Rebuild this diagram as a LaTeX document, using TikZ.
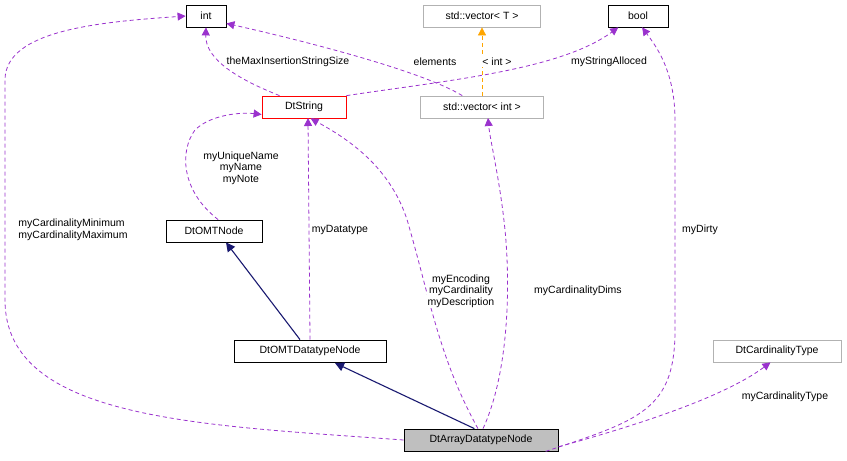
\documentclass[tikz,border=0pt]{standalone}
\usepackage{fontspec}
\setmainfont{Liberation Sans}
\usetikzlibrary{arrows.meta}
\definecolor{purp}{HTML}{9A32CD}
\definecolor{navy}{HTML}{191970}
\definecolor{orng}{HTML}{FFA500}
\tikzset{
 box/.style={draw=black,fill=white,line width=0.8pt,minimum height=22pt,inner xsep=4pt,inner ysep=0pt,font=\fontsize{10.5}{12}\selectfont},
 gbox/.style={box,draw=gray!60},
 rel/.style={draw=purp,line width=0.8pt,dash pattern=on 4pt off 3pt,-{Triangle[length=8pt,width=8pt]}},
 inh/.style={draw=navy,line width=1.1pt,-{Triangle[length=9pt,width=9pt]}},
 lab/.style={font=\fontsize{10.5}{11.5}\selectfont,align=center,fill=white,inner sep=1pt}
}
\begin{document}
\begin{tikzpicture}[x=1pt,y=-1pt]
\useasboundingbox (0,0) rectangle (847,461);
\node[box,minimum width=40pt] (int) at (206,16) {int};
\node[gbox,minimum width=117pt] (vT) at (482,16) {std::vector< T >};
\node[box,minimum width=60pt] (bool) at (638,16) {bool};
\node[box,draw=red,minimum width=84pt] (str) at (304,107) {DtString};
\node[gbox,minimum width=123pt] (vI) at (482,107) {std::vector< int >};
\node[box,minimum width=96pt] (omt) at (214,231) {DtOMTNode};
\node[box,minimum width=152pt] (dtn) at (310,351) {DtOMTDatatypeNode};
\node[gbox,minimum width=128pt] (ct) at (777,351) {DtCardinalityType};
\node[box,fill=gray!50,minimum width=154pt] (arr) at (481,440) {DtArrayDatatypeNode};

\draw[rel] (arr.west) .. controls (200,425) and (5,420) .. (5,300) -- (5,80) .. controls (5,30) and (100,22) .. (int.west);
\node[lab,align=left] at (73,230) {myCardinalityMinimum\\myCardinalityMaximum};
\draw[rel] (str.155) .. controls (240,80) and (205,60) .. (int.south);
\node[lab] at (288,62) {theMaxInsertionStringSize};
\draw[rel] (vI.150) .. controls (420,70) and (300,40) .. (int.-20);
\node[lab] at (435,62) {elements};
\draw[draw=orng,line width=0.8pt,dash pattern=on 4pt off 3pt,-{Triangle[length=8pt,width=8pt]}] (vI.north) -- (vT.south);
\node[lab] at (497,62) {< int >};
\draw[rel] (str.15) .. controls (450,80) and (560,70) .. (bool.210);
\node[lab] at (609,62) {myStringAlloced};
\draw[rel] (arr.-10) .. controls (640,420) and (675,410) .. (675,330) -- (675,120) .. controls (675,70) and (655,45) .. (bool.-70);
\node[lab] at (700,230) {myDirty};
\draw[rel] (omt.70) .. controls (180,190) and (180,150) .. (195,130) .. controls (210,115) and (240,112) .. (str.-170);
\node[lab] at (241,168) {myUniqueName\\myName\\myNote};
\draw[rel] (dtn.north) -- (308,118);
\node[lab] at (340,230) {myDatatype};
\draw[rel] (arr.105) .. controls (440,360) and (430,300) .. (410,230) .. controls (395,170) and (350,140) .. (str.-60);
\node[lab] at (461,291) {myEncoding\\myCardinality\\myDescription};
\draw[rel] (arr.80) .. controls (510,370) and (510,280) .. (505,230) .. controls (500,180) and (490,140) .. (488,118);
\node[lab] at (578,291) {myCardinalityDims};
\draw[rel] (arr.-5) .. controls (620,430) and (720,400) .. (ct.-120);
\node[lab] at (785,397) {myCardinalityType};
\draw[inh] (dtn.north -| 300,0) -- (omt.south -| 226,0);
\draw[inh] (arr.120) -- (335,363);
\end{tikzpicture}
\end{document}
